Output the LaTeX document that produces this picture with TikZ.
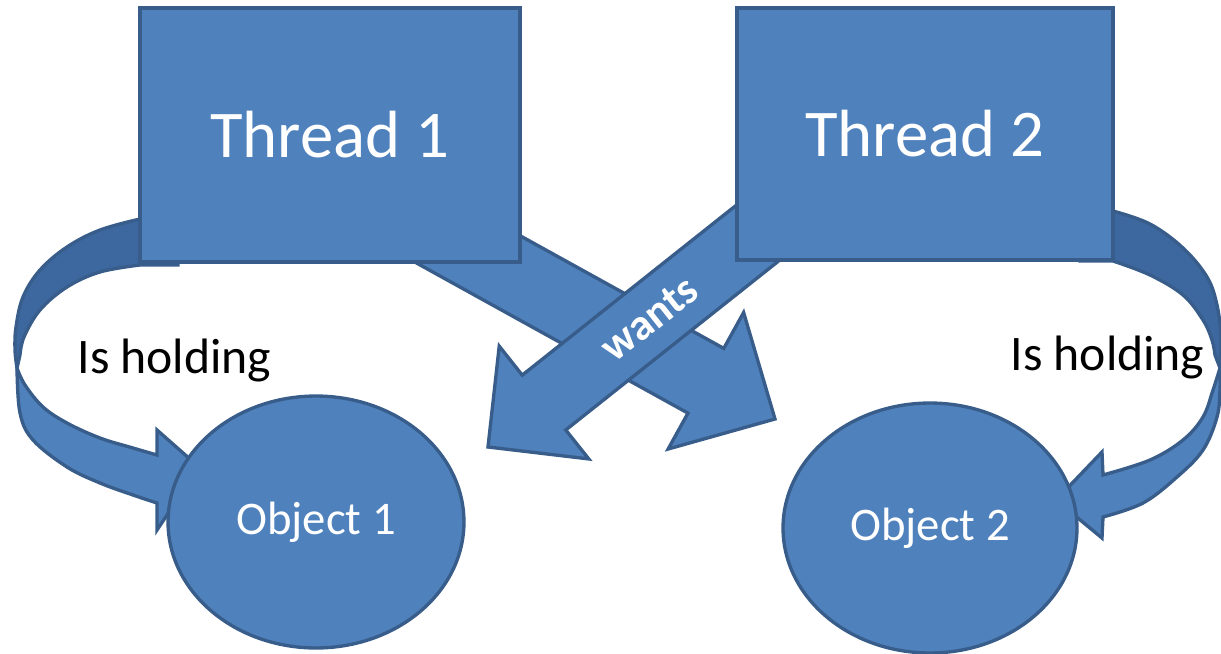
\documentclass[tikz,border=0pt]{standalone}
\usepackage{fontspec}
\setmainfont{Carlito}
\usetikzlibrary{calc,shapes.geometric}

\definecolor{boxfill}{HTML}{4F81BD}
\definecolor{boxline}{HTML}{385D8A}
\definecolor{ribbonback}{HTML}{3D689F}

% one drawing unit = one pixel of the final image
\newcommand\pxu{0.02cm}

% straight block arrow: #1 tail, #2 tip, #3 half shaft width,
% #4 half head width, #5 head length (all in pixel units)
\newcommand\blockarrow[5]{%
  \coordinate (neck) at ($(#2)!#5*\pxu!(#1)$);
  \filldraw[blockshape]
    ($(#1)!#3*\pxu!90:(#2)$) --
    ($(neck)!#3*\pxu!-90:(#1)$) --
    ($(neck)!#4*\pxu!-90:(#1)$) --
    (#2) --
    ($(neck)!#4*\pxu!90:(#1)$) --
    ($(neck)!#3*\pxu!90:(#1)$) --
    ($(#1)!#3*\pxu!-90:(#2)$) -- cycle;
}

\tikzset{
  blockshape/.style={fill=boxfill, draw=boxline, line width=1.9pt},
  ribbonrear/.style={fill=ribbonback, draw=boxline, line width=1.9pt},
  threadbox/.style={rectangle, fill=boxfill, draw=boxline, line width=1.9pt,
    text=white, font=\fontsize{38}{40}\selectfont, inner sep=0pt},
  objectnode/.style={ellipse, fill=boxfill, draw=boxline, line width=1.9pt,
    text=white, font=\fontsize{26.6}{28}\selectfont, inner sep=0pt},
  holdlabel/.style={text=black, font=\fontsize{28.3}{30}\selectfont, anchor=base, inner sep=0pt},
  wantslabel/.style={text=white, font=\bfseries\fontsize{25}{27}\selectfont, inner sep=0pt},
}

\begin{document}
\begin{tikzpicture}[x=0.02cm, y=-0.02cm]
\useasboundingbox (0,0) rectangle (1221,653);

% ---- left "is holding" ribbon: rear face, then front face with head
\filldraw[ribbonrear]
  (178,214) -- plot[smooth, tension=0.6] coordinates
    {(140,219) (100,230) (67,247) (40,270) (23,297) (16,327) (15,350) (17,368)}
  -- plot[smooth, tension=0.6] coordinates
    {(20,355) (24,337) (40,310) (67,287) (100,272) (140,265)}
  -- (178,265) -- cycle;
\filldraw[blockshape]
  plot[smooth, tension=0.6] coordinates
    {(17,368) (20,413) (33,440) (67,467) (100,483) (133,495) (157,503)}
  -- (157,530) -- (199,467) -- (157,430) --
  plot[smooth, tension=0.6] coordinates
    {(157,455) (133,448) (100,438) (67,423) (43,407) (25,385) (17,368)}
  -- cycle;

% ---- right "is holding" ribbon
\filldraw[ribbonrear]
  (1080,212) -- plot[smooth, tension=0.6] coordinates
    {(1113,211) (1150,224) (1183,248) (1207,277) (1217,305) (1221,338) (1220,368)}
  -- plot[smooth, tension=0.6] coordinates
    {(1215,355) (1212,340) (1203,320) (1183,295) (1150,275) (1113,261)}
  -- (1080,261) -- cycle;
\filldraw[blockshape]
  plot[smooth, tension=0.6] coordinates
    {(1220,368) (1220,390) (1217,417) (1203,450) (1177,477) (1143,503) (1103,517)}
  -- (1102,538) -- (1056,500) -- (1102,452) --
  plot[smooth, tension=0.6] coordinates
    {(1103,475) (1150,460) (1183,440) (1203,417) (1213,390) (1220,368)}
  -- cycle;

% ---- crossing "wants" arrows
\coordinate (aTail) at (408,216);
\coordinate (aTip)  at (775,419);
\coordinate (bTail) at (779,216);
\coordinate (bTip)  at (488,447);
\blockarrow{aTail}{aTip}{37}{78}{79}
\blockarrow{bTail}{bTip}{35}{72}{71.5}
\node[wantslabel, rotate=38.4] (wants) at ($(bTip)!0.555!(bTail)$) {wants};

% ---- threads
\node[threadbox, minimum width=7.6cm, minimum height=5.08cm] (t1) at (330,135) {Thread 1};
\node[threadbox, minimum width=7.52cm, minimum height=5.04cm] (t2) at (925,134) {Thread 2};

% ---- objects
\node[objectnode, minimum width=5.92cm, minimum height=5.04cm] (o1) at (316,522) {Object 1};
\node[objectnode, minimum width=5.88cm, minimum height=5.0cm] (o2) at (930,528) {Object 2};

% ---- labels
\node[holdlabel] (h1) at (174.5,373) {Is holding};
\node[holdlabel] (h2) at (1107.5,370) {Is holding};
\end{tikzpicture}
\end{document}
